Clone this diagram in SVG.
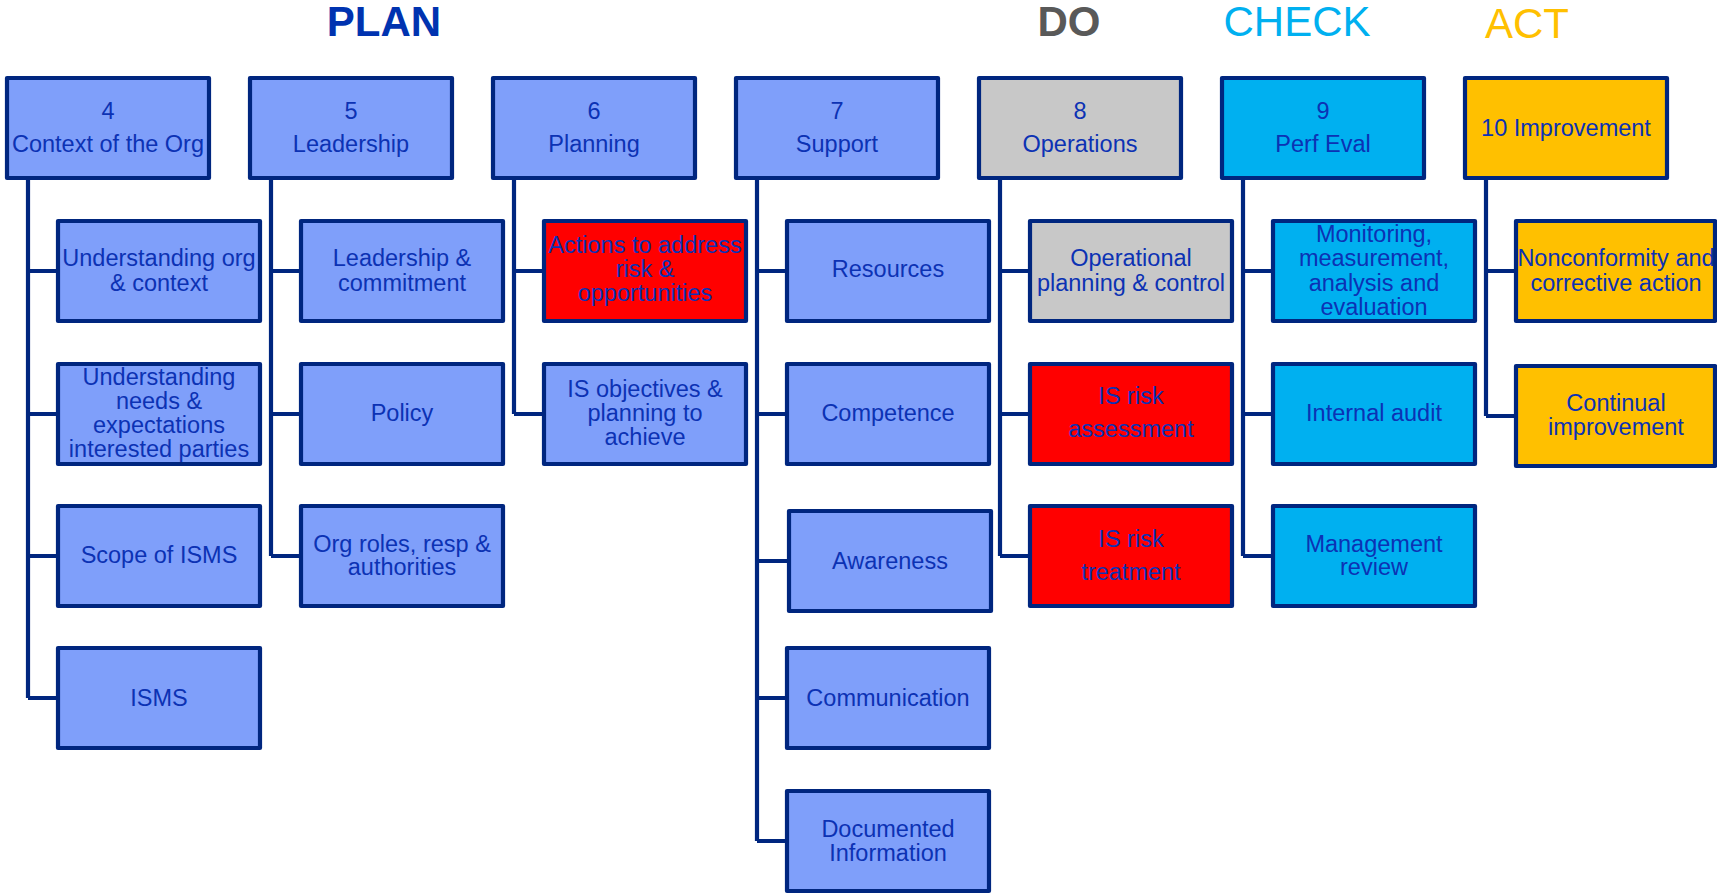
<svg xmlns="http://www.w3.org/2000/svg" width="1717" height="896" viewBox="0 0 1717 896">
<style>
.b{stroke:#00267f;stroke-width:4.2;stroke-linejoin:round}
.lb{fill:#7f9ffa}.rd{fill:#ff0000}.gr{fill:#c8c8c8}.cy{fill:#00b0f0}.yl{fill:#ffc000}
.t{font-family:"Liberation Sans",Arial,sans-serif;font-size:23.5px;fill:#0c32b4;text-anchor:middle}
.h{font-family:"Liberation Sans",Arial,sans-serif;font-size:42px;text-anchor:middle}
.c{fill:none;stroke:#00267f;stroke-width:4.2;stroke-linejoin:round}
</style>
<g id="titles">
<text class="h" x="384" y="36" font-weight="bold" fill="#0033b0">PLAN</text>
<text class="h" x="1069" y="36" font-weight="bold" fill="#595959">DO</text>
<text class="h" x="1297" y="36" fill="#00b0f0">CHECK</text>
<text class="h" x="1527" y="38" fill="#ffc000">ACT</text>
</g>
<g transform="translate(2,0)">
<g id="connectors">
<path class="c" d="M26 178V698M26 271H56M26 414H56M26 556H56M26 698H56"/>
<path class="c" d="M269 178V556M269 271H299M269 414H299M269 556H299"/>
<path class="c" d="M512 178V414M512 271H542M512 414H542"/>
<path class="c" d="M755 178V841M755 271H785M755 414H785M755 561H787M755 698H785M755 841H785"/>
<path class="c" d="M998 178V556M998 271H1028M998 414H1028M998 556H1028"/>
<path class="c" d="M1241 178V556M1241 271H1271M1241 414H1271M1241 556H1271"/>
<path class="c" d="M1484 178V416M1484 271H1514M1484 416H1514"/>
</g>
<g id="n4"><rect class="b lb" x="5" y="78" width="202" height="100"/><text class="t" x="106" y="119">4</text><text class="t" x="106" y="152">Context of the Org</text></g>
<g id="n5"><rect class="b lb" x="248" y="78" width="202" height="100"/><text class="t" x="349" y="119">5</text><text class="t" x="349" y="152">Leadership</text></g>
<g id="n6"><rect class="b lb" x="491" y="78" width="202" height="100"/><text class="t" x="592" y="119">6</text><text class="t" x="592" y="152">Planning</text></g>
<g id="n7"><rect class="b lb" x="734" y="78" width="202" height="100"/><text class="t" x="835" y="119">7</text><text class="t" x="835" y="152">Support</text></g>
<g id="n8"><rect class="b gr" x="977" y="78" width="202" height="100"/><text class="t" x="1078" y="119">8</text><text class="t" x="1078" y="152">Operations</text></g>
<g id="n9"><rect class="b cy" x="1220" y="78" width="202" height="100"/><text class="t" x="1321" y="119">9</text><text class="t" x="1321" y="152">Perf Eval</text></g>
<g id="n10"><rect class="b yl" x="1463" y="78" width="202" height="100"/><text class="t" x="1564" y="136">10 Improvement</text></g>

<g id="n4_1"><rect class="b lb" x="56" y="221" width="202" height="100"/><text class="t" x="157" y="266">Understanding org</text><text class="t" x="157" y="291">&amp; context</text></g>
<g id="n4_2"><rect class="b lb" x="56" y="364" width="202" height="100"/><text class="t" x="157" y="385">Understanding</text><text class="t" x="157" y="409">needs &amp;</text><text class="t" x="157" y="433">expectations</text><text class="t" x="157" y="457">interested parties</text></g>
<g id="n4_3"><rect class="b lb" x="56" y="506" width="202" height="100"/><text class="t" x="157" y="563">Scope of ISMS</text></g>
<g id="n4_4"><rect class="b lb" x="56" y="648" width="202" height="100"/><text class="t" x="157" y="706">ISMS</text></g>

<g id="n5_1"><rect class="b lb" x="299" y="221" width="202" height="100"/><text class="t" x="400" y="266">Leadership &amp;</text><text class="t" x="400" y="291">commitment</text></g>
<g id="n5_2"><rect class="b lb" x="299" y="364" width="202" height="100"/><text class="t" x="400" y="421">Policy</text></g>
<g id="n5_3"><rect class="b lb" x="299" y="506" width="202" height="100"/><text class="t" x="400" y="552">Org roles, resp &amp;</text><text class="t" x="400" y="575">authorities</text></g>

<g id="n6_1"><rect class="b rd" x="542" y="221" width="202" height="100"/><text class="t" x="643" y="253">Actions to address</text><text class="t" x="643" y="277">risk &amp;</text><text class="t" x="643" y="301">opportunities</text></g>
<g id="n6_2"><rect class="b lb" x="542" y="364" width="202" height="100"/><text class="t" x="643" y="397">IS objectives &amp;</text><text class="t" x="643" y="421">planning to</text><text class="t" x="643" y="445">achieve</text></g>

<g id="n7_1"><rect class="b lb" x="785" y="221" width="202" height="100"/><text class="t" x="886" y="277">Resources</text></g>
<g id="n7_2"><rect class="b lb" x="785" y="364" width="202" height="100"/><text class="t" x="886" y="421">Competence</text></g>
<g id="n7_3"><rect class="b lb" x="787" y="511" width="202" height="100"/><text class="t" x="888" y="569">Awareness</text></g>
<g id="n7_4"><rect class="b lb" x="785" y="648" width="202" height="100"/><text class="t" x="886" y="706">Communication</text></g>
<g id="n7_5"><rect class="b lb" x="785" y="791" width="202" height="100"/><text class="t" x="886" y="837">Documented</text><text class="t" x="886" y="861">Information</text></g>

<g id="n8_1"><rect class="b gr" x="1028" y="221" width="202" height="100"/><text class="t" x="1129" y="266">Operational</text><text class="t" x="1129" y="291">planning &amp; control</text></g>
<g id="n8_2"><rect class="b rd" x="1028" y="364" width="202" height="100"/><text class="t" x="1129" y="404">IS risk</text><text class="t" x="1129" y="437">assessment</text></g>
<g id="n8_3"><rect class="b rd" x="1028" y="506" width="202" height="100"/><text class="t" x="1129" y="547">IS risk</text><text class="t" x="1129" y="580">treatment</text></g>

<g id="n9_1"><rect class="b cy" x="1271" y="221" width="202" height="100"/><text class="t" x="1372" y="242">Monitoring,</text><text class="t" x="1372" y="266">measurement,</text><text class="t" x="1372" y="291">analysis and</text><text class="t" x="1372" y="315">evaluation</text></g>
<g id="n9_2"><rect class="b cy" x="1271" y="364" width="202" height="100"/><text class="t" x="1372" y="421">Internal audit</text></g>
<g id="n9_3"><rect class="b cy" x="1271" y="506" width="202" height="100"/><text class="t" x="1372" y="552">Management</text><text class="t" x="1372" y="575">review</text></g>

<g id="n10_1"><rect class="b yl" x="1514" y="221" width="199" height="100"/><text class="t" x="1614" y="266">Nonconformity and</text><text class="t" x="1614" y="291">corrective action</text></g>
<g id="n10_2"><rect class="b yl" x="1514" y="366" width="199" height="100"/><text class="t" x="1614" y="411">Continual</text><text class="t" x="1614" y="435">improvement</text></g>
</g>
</svg>
